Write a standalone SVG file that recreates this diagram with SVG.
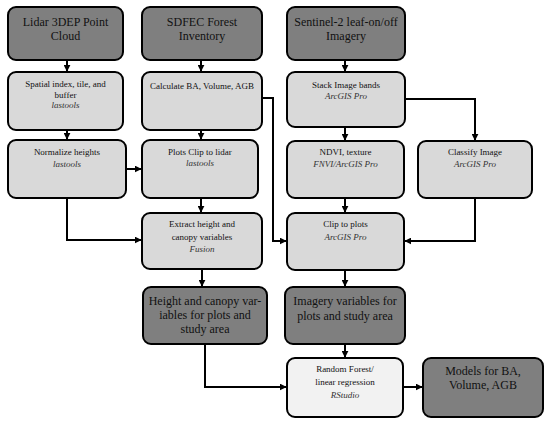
<svg xmlns="http://www.w3.org/2000/svg" width="550" height="423" viewBox="0 0 550 423">
<defs>
<style>
.dk{fill:#7f7f7f;stroke:#000;stroke-width:2}
.lt{fill:#d9d9d9;stroke:#000;stroke-width:2}
.wt{fill:#f2f2f2;stroke:#000;stroke-width:2}
.t{font-family:"Liberation Serif","Times New Roman",serif;font-size:12px;fill:#111;text-anchor:middle}
.s{font-family:"Liberation Serif","Times New Roman",serif;font-size:9px;fill:#111;text-anchor:middle}
.i{font-style:italic;fill:#333}
.c{fill:none;stroke:#000;stroke-width:2}
</style>
<marker id="ah" viewBox="0 0 10 10" refX="9" refY="5" markerWidth="3.5" markerHeight="3.5" orient="auto" markerUnits="strokeWidth">
<path d="M0,0 L10,5 L0,10 z" fill="#000"/>
</marker>
</defs>
<rect width="550" height="423" fill="#fff"/>
<g id="connectors">
<line class="c" x1="67" y1="60" x2="67" y2="71" marker-end="url(#ah)"/>
<line class="c" x1="201" y1="60" x2="201" y2="71" marker-end="url(#ah)"/>
<line class="c" x1="345" y1="60" x2="345" y2="71" marker-end="url(#ah)"/>
<line class="c" x1="67" y1="130" x2="67" y2="139" marker-end="url(#ah)"/>
<line class="c" x1="201" y1="130" x2="201" y2="139" marker-end="url(#ah)"/>
<line class="c" x1="345" y1="127" x2="345" y2="140" marker-end="url(#ah)"/>
<polyline class="c" points="405,99 475,99 475,140" marker-end="url(#ah)"/>
<line class="c" x1="126" y1="169" x2="141" y2="169" marker-end="url(#ah)"/>
<polyline class="c" points="262,98 273,98 273,241 286,241" marker-end="url(#ah)"/>
<line class="c" x1="201" y1="198" x2="201" y2="212" marker-end="url(#ah)"/>
<line class="c" x1="345" y1="198" x2="345" y2="212" marker-end="url(#ah)"/>
<polyline class="c" points="67,198 67,240 141,240" marker-end="url(#ah)"/>
<polyline class="c" points="475,198 475,241 405,241" marker-end="url(#ah)"/>
<line class="c" x1="202" y1="269" x2="202" y2="286" marker-end="url(#ah)"/>
<line class="c" x1="345" y1="270" x2="345" y2="286" marker-end="url(#ah)"/>
<line class="c" x1="345" y1="344" x2="345" y2="357" marker-end="url(#ah)"/>
<polyline class="c" points="205,344 205,387 286,387" marker-end="url(#ah)"/>
<line class="c" x1="403" y1="387" x2="422" y2="387" marker-end="url(#ah)"/>
</g>
<g id="lidar"><rect class="dk" x="8" y="7" width="115" height="53" rx="8"/>
<text class="t" x="65.5" y="26">Lidar 3DEP Point</text><text class="t" x="65.5" y="40">Cloud</text></g>
<g id="sdfec"><rect class="dk" x="142" y="7" width="120" height="53" rx="8"/>
<text class="t" x="202" y="26">SDFEC Forest</text><text class="t" x="202" y="40">Inventory</text></g>
<g id="sentinel"><rect class="dk" x="287" y="7" width="118" height="53" rx="8"/>
<text class="t" x="346" y="26">Sentinel-2 leaf-on/off</text><text class="t" x="346" y="40">Imagery</text></g>
<g id="spatial"><rect class="lt" x="8" y="72" width="115" height="58" rx="8"/>
<text class="s" x="65.5" y="87">Spatial index, tile, and</text><text class="s" x="65.5" y="97.5">buffer</text><text class="s i" x="65.5" y="108">lastools</text></g>
<g id="calculate"><rect class="lt" x="142" y="72" width="120" height="58" rx="8"/>
<text class="s" x="202" y="89">Calculate BA, Volume, AGB</text></g>
<g id="stack"><rect class="lt" x="287" y="72" width="118" height="55" rx="8"/>
<text class="s" x="346" y="88">Stack Image bands</text><text class="s i" x="346" y="99">ArcGIS Pro</text></g>
<g id="normalize"><rect class="lt" x="8" y="140" width="118" height="58" rx="8"/>
<text class="s" x="67" y="155">Normalize heights</text><text class="s i" x="67" y="167">lastools</text></g>
<g id="plotsclip"><rect class="lt" x="142" y="140" width="116" height="58" rx="8"/>
<text class="s" x="200" y="155">Plots Clip to lidar</text><text class="s i" x="200" y="166">lastools</text></g>
<g id="ndvi"><rect class="lt" x="287" y="141" width="117" height="57" rx="8"/>
<text class="s" x="345.5" y="155">NDVI, texture</text><text class="s i" x="345.5" y="167">FNVI/ArcGIS Pro</text></g>
<g id="classify"><rect class="lt" x="418" y="141" width="114" height="57" rx="8"/>
<text class="s" x="475" y="155">Classify Image</text><text class="s i" x="475" y="167">ArcGIS Pro</text></g>
<g id="extract"><rect class="lt" x="142" y="213" width="120" height="56" rx="8"/>
<text class="s" x="202" y="227">Extract height and</text><text class="s" x="202" y="240">canopy variables</text><text class="s i" x="202" y="252">Fusion</text></g>
<g id="clipplots"><rect class="lt" x="287" y="213" width="117" height="57" rx="8"/>
<text class="s" x="345.5" y="227">Clip to plots</text><text class="s i" x="345.5" y="240">ArcGIS Pro</text></g>
<g id="heightvars"><rect class="dk" x="143" y="287" width="124" height="57" rx="8"/>
<text class="t" x="205" y="305">Height and canopy var-</text><text class="t" x="205" y="319">iables for plots and</text><text class="t" x="205" y="333">study area</text></g>
<g id="imageryvars"><rect class="dk" x="285" y="287" width="120" height="57" rx="8"/>
<text class="t" x="345" y="305">Imagery variables for</text><text class="t" x="345" y="320">plots and study area</text></g>
<g id="rf"><rect class="wt" x="287" y="358" width="116" height="59" rx="8"/>
<text class="s" x="345" y="372">Random Forest/</text><text class="s" x="345" y="385">linear regression</text><text class="s i" x="345" y="398">RStudio</text></g>
<g id="models"><rect class="dk" x="423" y="358" width="120" height="59" rx="8"/>
<text class="t" x="483" y="375">Models for BA,</text><text class="t" x="483" y="389">Volume, AGB</text></g>
</svg>
